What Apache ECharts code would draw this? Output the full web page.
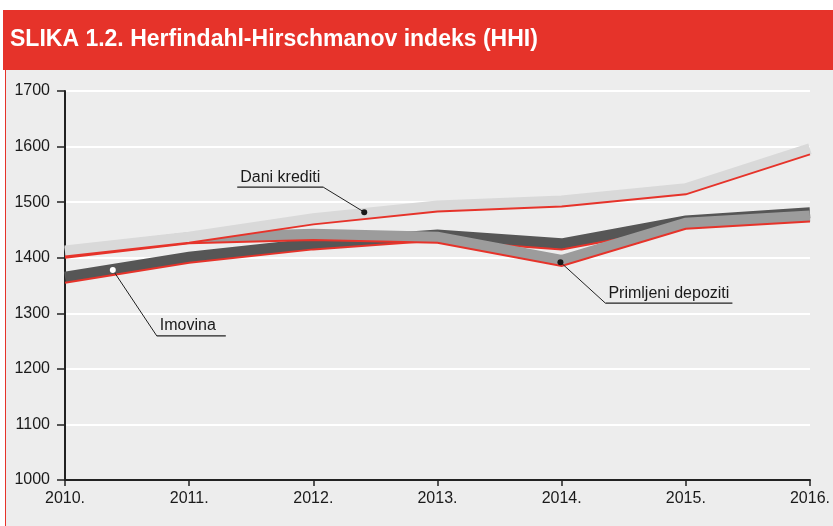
<!DOCTYPE html>
<html>
<head>
<meta charset="utf-8">
<title>HHI</title>
<script src="https://cdn.jsdelivr.net/npm/echarts@6/dist/echarts.min.js"></script>
<style>
    html, body { margin: 0; padding: 0; background: #ffffff; }
    #chart { width: 833px; height: 526px; }
</style>
</head>
<body>
<div id="chart"></div>
<script>
// Chart data
const years = [2010, 2011, 2012, 2013, 2014, 2015, 2016];
const daniKrediti = [1402, 1427, 1460, 1483, 1492, 1514, 1586];
const imovina = [1355, 1391, 1415, 1431, 1415, 1456, 1471];
const primljeniDepoziti = [1400, 1426, 1432, 1427, 1385, 1452, 1465];
const yTicks = [1000, 1100, 1200, 1300, 1400, 1500, 1600, 1700];

const RED = '#e6332a';
const TEXT = '#1a1a1a';

const chart = echarts.init(document.getElementById('chart'));

function pairs(values) {
    return years.map((y, i) => [y, values[i]]);
}

// each series is a grey band with a thin red line along its lower edge
function bandSeries(name, values, grey, z) {
    return [
        {
            name: name + ' band',
            type: 'line',
            yAxisIndex: 1,
            data: pairs(values),
            symbol: 'none',
            silent: true,
            z: z,
            lineStyle: { color: grey, width: 11, cap: 'butt', join: 'miter' }
        },
        {
            name: name,
            type: 'line',
            yAxisIndex: 0,
            data: pairs(values),
            symbol: 'none',
            silent: true,
            z: z + 1,
            lineStyle: { color: RED, width: 2, join: 'miter' }
        }
    ];
}

const option = {
    animation: false,
    backgroundColor: '#ffffff',
    textStyle: { fontFamily: 'Liberation Sans, Arial, sans-serif' },
    grid: { left: 65, right: 20, top: 91, bottom: 46 },
    xAxis: {
        type: 'value',
        min: years[0],
        max: years[years.length - 1],
        interval: 1,
        axisLine: { lineStyle: { color: '#222', width: 2 } },
        axisTick: { length: 6, lineStyle: { color: '#222', width: 1.5 } },
        axisLabel: {
            color: TEXT,
            fontSize: 16,
            margin: 11,
            formatter: v => v + '.'
        },
        splitLine: { show: false }
    },
    yAxis: [
        {
            type: 'value',
            min: yTicks[0],
            max: yTicks[yTicks.length - 1],
            interval: 100,
            axisLine: { show: true, lineStyle: { color: '#222', width: 2 } },
            axisTick: { show: true, length: 8, lineStyle: { color: '#222', width: 1.5 } },
            axisLabel: { color: TEXT, fontSize: 16, margin: 15, formatter: v => String(v) },
            splitLine: { show: true, lineStyle: { color: '#ffffff', width: 2 } }
        },
        {
            // same scale, lifted by half a band so the grey sits above the red line
            type: 'value',
            min: 990,
            max: 1690,
            show: false,
            splitLine: { show: false }
        }
    ],
    graphic: [
        {
            type: 'rect',
            z: -10,
            shape: { x: 5, y: 70, width: 828, height: 456 },
            style: { fill: '#ededed' }
        },
        {
            type: 'rect',
            z: -9,
            shape: { x: 5, y: 70, width: 1, height: 456 },
            style: { fill: RED }
        },
        {
            type: 'rect',
            z: -9,
            shape: { x: 3, y: 10, width: 830, height: 60 },
            style: { fill: RED }
        },
        {
            type: 'text',
            z: 10,
            left: 10,
            top: 28,
            style: {
                text: 'SLIKA 1.2. Herfindahl-Hirschmanov indeks (HHI)',
                fill: '#ffffff',
                font: 'bold 23px "Liberation Sans", Arial, sans-serif'
            }
        }
    ],
    series: [
        ...bandSeries('Imovina', imovina, '#565656', 2),
        ...bandSeries('Primljeni depoziti', primljeniDepoziti, '#9c9c9c', 4),
        ...bandSeries('Dani krediti', daniKrediti, '#d9d9d9', 6)
    ]
};

chart.setOption(option);

// Callout labels with leader lines, anchored to points on the lines
function addCallouts() {
    const callouts = [
        { text: 'Dani krediti', at: [2012.41, 1482], dot: '#1a1a1a', dx: -41, dy: -25, len: 86, side: 'left' },
        { text: 'Imovina', at: [2010.385, 1378], dot: '#ffffff', dx: 44, dy: 66, len: 69, side: 'right' },
        { text: 'Primljeni depoziti', at: [2013.99, 1392], dot: '#1a1a1a', dx: 45, dy: 41, len: 127, side: 'right' }
    ];

    const elements = [];
    callouts.forEach(c => {
        const p = chart.convertToPixel({ xAxisIndex: 0, yAxisIndex: 0 }, c.at);
        const ex = p[0] + c.dx;
        const ey = p[1] + c.dy;
        const x1 = c.side === 'left' ? ex - c.len : ex;
        const x2 = c.side === 'left' ? ex : ex + c.len;

        elements.push({
            type: 'polyline',
            z: 20,
            shape: { points: [[p[0], p[1]], [ex, ey]] },
            style: { stroke: '#222', lineWidth: 1, fill: null }
        });
        elements.push({
            type: 'line',
            z: 20,
            shape: { x1: x1, y1: ey, x2: x2, y2: ey },
            style: { stroke: '#222', lineWidth: 1.2 }
        });
        elements.push({
            type: 'circle',
            z: 21,
            shape: { cx: p[0], cy: p[1], r: 3 },
            style: { fill: c.dot }
        });
        elements.push({
            type: 'text',
            z: 21,
            x: x1 + 3,
            y: ey - 2,
            style: {
                text: c.text,
                fill: TEXT,
                font: '16px "Liberation Sans", Arial, sans-serif',
                textVerticalAlign: 'bottom'
            }
        });
    });

    chart.setOption({ graphic: option.graphic.concat(elements) });
}

addCallouts();
</script>
</body>
</html>
